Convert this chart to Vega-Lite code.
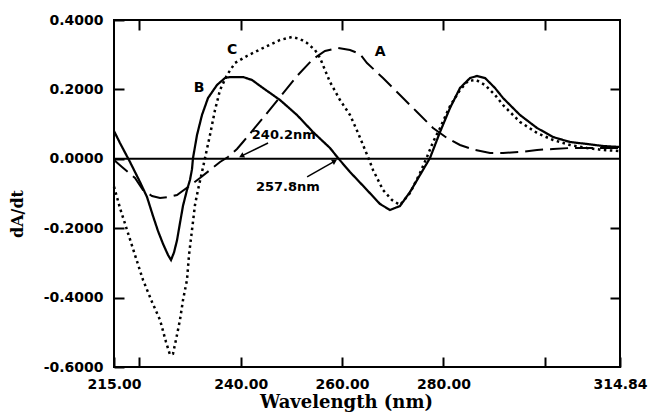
{
  "$schema": "https://vega.github.io/schema/vega-lite/v6.json",
  "width": 506,
  "height": 347,
  "autosize": "none",
  "padding": {"left": 114, "top": 20, "right": 30, "bottom": 45},
  "background": "white",
  "config": {
    "view": {"stroke": "black", "strokeWidth": 2},
    "axis": {
      "grid": false,
      "domain": false,
      "labelFont": "DejaVu Sans",
      "labelFontWeight": "bold",
      "labelFontSize": 14,
      "labelColor": "black",
      "labelFlush": false,
      "labelOverlap": false,
      "tickColor": "black",
      "tickWidth": 2,
      "titleFont": "DejaVu Serif",
      "titleFontWeight": "bold",
      "titleColor": "black"
    }
  },
  "datasets": {
    "curves": [
      {"series": "A", "wl": 215.00, "v": -0.0035},
      {"series": "A", "wl": 216.58, "v": -0.0236},
      {"series": "A", "wl": 219.14, "v": -0.0553},
      {"series": "A", "wl": 220.72, "v": -0.0899},
      {"series": "A", "wl": 222.50, "v": -0.1072},
      {"series": "A", "wl": 224.08, "v": -0.1130},
      {"series": "A", "wl": 225.66, "v": -0.1101},
      {"series": "A", "wl": 227.43, "v": -0.1043},
      {"series": "A", "wl": 229.60, "v": -0.0813},
      {"series": "A", "wl": 231.97, "v": -0.0553},
      {"series": "A", "wl": 233.94, "v": -0.0323},
      {"series": "A", "wl": 235.92, "v": -0.0092},
      {"series": "A", "wl": 237.49, "v": 0.0052},
      {"series": "A", "wl": 239.27, "v": 0.0282},
      {"series": "A", "wl": 240.45, "v": 0.0484},
      {"series": "A", "wl": 244.40, "v": 0.1176},
      {"series": "A", "wl": 247.76, "v": 0.1781},
      {"series": "A", "wl": 251.11, "v": 0.2386},
      {"series": "A", "wl": 254.27, "v": 0.2876},
      {"series": "A", "wl": 256.63, "v": 0.3107},
      {"series": "A", "wl": 259.20, "v": 0.3193},
      {"series": "A", "wl": 261.57, "v": 0.3135},
      {"series": "A", "wl": 263.54, "v": 0.3020},
      {"series": "A", "wl": 264.92, "v": 0.2761},
      {"series": "A", "wl": 268.08, "v": 0.2328},
      {"series": "A", "wl": 271.43, "v": 0.1839},
      {"series": "A", "wl": 274.79, "v": 0.1349},
      {"series": "A", "wl": 277.95, "v": 0.0888},
      {"series": "A", "wl": 280.71, "v": 0.0599},
      {"series": "A", "wl": 283.27, "v": 0.0398},
      {"series": "A", "wl": 286.23, "v": 0.0254},
      {"series": "A", "wl": 289.19, "v": 0.0167},
      {"series": "A", "wl": 291.76, "v": 0.0167},
      {"series": "A", "wl": 295.11, "v": 0.0196},
      {"series": "A", "wl": 298.47, "v": 0.0254},
      {"series": "A", "wl": 301.62, "v": 0.0282},
      {"series": "A", "wl": 304.98, "v": 0.0311},
      {"series": "A", "wl": 308.33, "v": 0.0311},
      {"series": "A", "wl": 311.49, "v": 0.0311},
      {"series": "A", "wl": 314.84, "v": 0.0311},

      {"series": "B", "wl": 215.00, "v": 0.0801},
      {"series": "B", "wl": 216.18, "v": 0.0455},
      {"series": "B", "wl": 218.16, "v": -0.0092},
      {"series": "B", "wl": 220.13, "v": -0.0669},
      {"series": "B", "wl": 221.51, "v": -0.1100},
      {"series": "B", "wl": 222.70, "v": -0.1650},
      {"series": "B", "wl": 223.68, "v": -0.2080},
      {"series": "B", "wl": 224.67, "v": -0.2450},
      {"series": "B", "wl": 225.66, "v": -0.2772},
      {"series": "B", "wl": 226.25, "v": -0.2916},
      {"series": "B", "wl": 226.84, "v": -0.2700},
      {"series": "B", "wl": 227.43, "v": -0.2350},
      {"series": "B", "wl": 228.02, "v": -0.1850},
      {"series": "B", "wl": 228.62, "v": -0.1350},
      {"series": "B", "wl": 229.40, "v": -0.0899},
      {"series": "B", "wl": 229.99, "v": -0.0611},
      {"series": "B", "wl": 230.39, "v": -0.0300},
      {"series": "B", "wl": 230.59, "v": 0.0023},
      {"series": "B", "wl": 231.38, "v": 0.0686},
      {"series": "B", "wl": 232.36, "v": 0.1262},
      {"series": "B", "wl": 233.55, "v": 0.1752},
      {"series": "B", "wl": 235.32, "v": 0.2127},
      {"series": "B", "wl": 236.90, "v": 0.2328},
      {"series": "B", "wl": 237.89, "v": 0.2357},
      {"series": "B", "wl": 240.45, "v": 0.2357},
      {"series": "B", "wl": 242.23, "v": 0.2271},
      {"series": "B", "wl": 244.40, "v": 0.2040},
      {"series": "B", "wl": 247.76, "v": 0.1694},
      {"series": "B", "wl": 251.11, "v": 0.1262},
      {"series": "B", "wl": 254.27, "v": 0.0772},
      {"series": "B", "wl": 257.62, "v": 0.0311},
      {"series": "B", "wl": 259.20, "v": 0.0023},
      {"series": "B", "wl": 261.57, "v": -0.0380},
      {"series": "B", "wl": 264.92, "v": -0.0899},
      {"series": "B", "wl": 267.49, "v": -0.1303},
      {"series": "B", "wl": 269.46, "v": -0.1475},
      {"series": "B", "wl": 271.43, "v": -0.1360},
      {"series": "B", "wl": 273.41, "v": -0.0957},
      {"series": "B", "wl": 275.38, "v": -0.0467},
      {"series": "B", "wl": 277.35, "v": 0.0023},
      {"series": "B", "wl": 279.33, "v": 0.0772},
      {"series": "B", "wl": 281.30, "v": 0.1464},
      {"series": "B", "wl": 283.27, "v": 0.2040},
      {"series": "B", "wl": 285.25, "v": 0.2328},
      {"series": "B", "wl": 286.63, "v": 0.2386},
      {"series": "B", "wl": 288.21, "v": 0.2328},
      {"series": "B", "wl": 290.18, "v": 0.2040},
      {"series": "B", "wl": 291.76, "v": 0.1752},
      {"series": "B", "wl": 295.11, "v": 0.1262},
      {"series": "B", "wl": 298.47, "v": 0.0888},
      {"series": "B", "wl": 301.62, "v": 0.0628},
      {"series": "B", "wl": 304.98, "v": 0.0484},
      {"series": "B", "wl": 308.33, "v": 0.0427},
      {"series": "B", "wl": 311.49, "v": 0.0369},
      {"series": "B", "wl": 314.84, "v": 0.0340},

      {"series": "C", "wl": 215.00, "v": -0.0800},
      {"series": "C", "wl": 216.18, "v": -0.1418},
      {"series": "C", "wl": 217.57, "v": -0.2052},
      {"series": "C", "wl": 219.14, "v": -0.2772},
      {"series": "C", "wl": 220.72, "v": -0.3491},
      {"series": "C", "wl": 222.50, "v": -0.4124},
      {"series": "C", "wl": 224.08, "v": -0.4643},
      {"series": "C", "wl": 225.26, "v": -0.5280},
      {"series": "C", "wl": 226.05, "v": -0.5648},
      {"series": "C", "wl": 226.64, "v": -0.5619},
      {"series": "C", "wl": 227.23, "v": -0.5216},
      {"series": "C", "wl": 228.02, "v": -0.4643},
      {"series": "C", "wl": 228.62, "v": -0.4067},
      {"series": "C", "wl": 229.40, "v": -0.3491},
      {"series": "C", "wl": 229.80, "v": -0.2772},
      {"series": "C", "wl": 230.39, "v": -0.2052},
      {"series": "C", "wl": 230.98, "v": -0.1331},
      {"series": "C", "wl": 231.57, "v": -0.0899},
      {"series": "C", "wl": 232.36, "v": -0.0380},
      {"series": "C", "wl": 232.96, "v": 0.0023},
      {"series": "C", "wl": 233.94, "v": 0.0686},
      {"series": "C", "wl": 234.93, "v": 0.1406},
      {"series": "C", "wl": 235.92, "v": 0.1983},
      {"series": "C", "wl": 237.30, "v": 0.2415},
      {"series": "C", "wl": 238.88, "v": 0.2761},
      {"series": "C", "wl": 241.24, "v": 0.2963},
      {"series": "C", "wl": 244.40, "v": 0.3193},
      {"series": "C", "wl": 247.76, "v": 0.3424},
      {"series": "C", "wl": 250.12, "v": 0.3510},
      {"series": "C", "wl": 251.70, "v": 0.3452},
      {"series": "C", "wl": 253.08, "v": 0.3337},
      {"series": "C", "wl": 254.66, "v": 0.3135},
      {"series": "C", "wl": 255.65, "v": 0.2905},
      {"series": "C", "wl": 257.62, "v": 0.2213},
      {"series": "C", "wl": 259.59, "v": 0.1694},
      {"series": "C", "wl": 261.57, "v": 0.1262},
      {"series": "C", "wl": 263.15, "v": 0.0744},
      {"series": "C", "wl": 265.12, "v": 0.0052},
      {"series": "C", "wl": 266.11, "v": -0.0323},
      {"series": "C", "wl": 268.08, "v": -0.0899},
      {"series": "C", "wl": 269.85, "v": -0.1187},
      {"series": "C", "wl": 271.43, "v": -0.1331},
      {"series": "C", "wl": 273.41, "v": -0.0986},
      {"series": "C", "wl": 275.38, "v": -0.0409},
      {"series": "C", "wl": 276.76, "v": 0.0052},
      {"series": "C", "wl": 277.95, "v": 0.0484},
      {"series": "C", "wl": 279.33, "v": 0.0888},
      {"series": "C", "wl": 281.30, "v": 0.1522},
      {"series": "C", "wl": 283.27, "v": 0.1983},
      {"series": "C", "wl": 284.85, "v": 0.2242},
      {"series": "C", "wl": 286.43, "v": 0.2271},
      {"series": "C", "wl": 288.21, "v": 0.2127},
      {"series": "C", "wl": 290.18, "v": 0.1839},
      {"series": "C", "wl": 291.76, "v": 0.1550},
      {"series": "C", "wl": 295.11, "v": 0.1061},
      {"series": "C", "wl": 298.47, "v": 0.0744},
      {"series": "C", "wl": 301.62, "v": 0.0542},
      {"series": "C", "wl": 304.98, "v": 0.0398},
      {"series": "C", "wl": 308.33, "v": 0.0311},
      {"series": "C", "wl": 311.49, "v": 0.0254},
      {"series": "C", "wl": 314.84, "v": 0.0225}
    ],
    "labels": [
      {"text": "A", "wl": 267.5, "v": 0.308, "kind": "letter"},
      {"text": "B", "wl": 231.8, "v": 0.204, "kind": "letter"},
      {"text": "C", "wl": 238.3, "v": 0.3135, "kind": "letter"},
      {"text": "240.2nm", "wl": 248.5, "v": 0.0686, "kind": "note"},
      {"text": "257.8nm", "wl": 249.3, "v": -0.0813, "kind": "note"}
    ],
    "arrows": [
      {"label": "240.2nm", "wl": 245.4, "v": 0.0455, "wl2": 240.3, "v2": 0.009},
      {"label": "257.8nm", "wl": 253.1, "v": -0.052, "wl2": 258.4, "v2": -0.008}
    ]
  },
  "layer": [
    {
      "data": {"values": [{"v": 0}]},
      "mark": {"type": "rule", "color": "black", "strokeWidth": 2},
      "encoding": {
        "y": {
          "field": "v", "type": "quantitative",
          "scale": {"domain": [-0.6, 0.4], "nice": false, "zero": false},
          "axis": {
            "orient": "left",
            "values": [-0.6, -0.4, -0.2, 0, 0.2, 0.4],
            "format": ".4f",
            "labelExpr": "replace(datum.label, '\u2212', '-')",
            "tickSize": -10,
            "labelPadding": 21,
            "title": "dA/dt",
            "titleFontSize": 16,
            "titleX": -97,
            "titleY": 193.5,
            "titleBaseline": "middle"
          }
        }
      }
    },
    {
      "data": {"name": "curves"},
      "mark": {"type": "line", "color": "black", "strokeCap": "butt"},
      "encoding": {
        "x": {
          "field": "wl", "type": "quantitative",
          "scale": {"domain": [215, 314.84], "nice": false, "zero": false},
          "axis": {
            "orient": "bottom",
            "values": [215, 220, 240, 260, 280, 300, 314.84],
            "format": ".2f",
            "labelExpr": "datum.value == 220 || datum.value == 300 ? '' : datum.label",
            "tickSize": -10,
            "labelPadding": 20,
            "title": "Wavelength (nm)",
            "titleFontSize": 18,
            "titleX": 232,
            "titleY": 40,
            "titleBaseline": "alphabetic"
          }
        },
        "y": {"field": "v", "type": "quantitative", "axis": null},
        "detail": {"field": "series"},
        "strokeDash": {
          "field": "series", "type": "nominal",
          "scale": {"domain": ["A", "B", "C"], "range": [[18, 7], [1, 0], [2.5, 3.5]]},
          "legend": null
        },
        "strokeWidth": {
          "field": "series", "type": "nominal",
          "scale": {"domain": ["A", "B", "C"], "range": [2, 2.5, 3]},
          "legend": null
        }
      }
    },
    {
      "data": {"name": "arrows"},
      "mark": {"type": "rule", "color": "black", "strokeWidth": 1.5},
      "encoding": {
        "x": {"field": "wl", "type": "quantitative", "axis": null},
        "y": {"field": "v", "type": "quantitative", "axis": null},
        "x2": {"field": "wl2"},
        "y2": {"field": "v2"}
      }
    },
    {
      "data": {"name": "arrows"},
      "mark": {"type": "point", "shape": "triangle", "filled": true, "color": "black", "size": 35, "opacity": 1},
      "encoding": {
        "x": {"field": "wl2", "type": "quantitative", "axis": null},
        "y": {"field": "v2", "type": "quantitative", "axis": null},
        "angle": {"condition": {"test": "datum.label == '240.2nm'", "value": 244}, "value": 60}
      }
    },
    {
      "data": {"name": "labels"},
      "mark": {"type": "text", "font": "DejaVu Sans", "fontWeight": "bold", "color": "black", "align": "center", "baseline": "middle"},
      "encoding": {
        "x": {
          "field": "wl", "type": "quantitative",
          "axis": {"orient": "top", "values": [220, 240, 260, 280, 300], "labels": false, "tickSize": -10, "title": null}
        },
        "y": {
          "field": "v", "type": "quantitative",
          "axis": {"orient": "right", "values": [-0.4, -0.2, 0.2], "labels": false, "tickSize": -10, "title": null}
        },
        "text": {"field": "text"},
        "size": {"condition": {"test": "datum.kind == 'letter'", "value": 14}, "value": 13}
      }
    }
  ],
  "resolve": {"axis": {"x": "independent", "y": "independent"}}
}
